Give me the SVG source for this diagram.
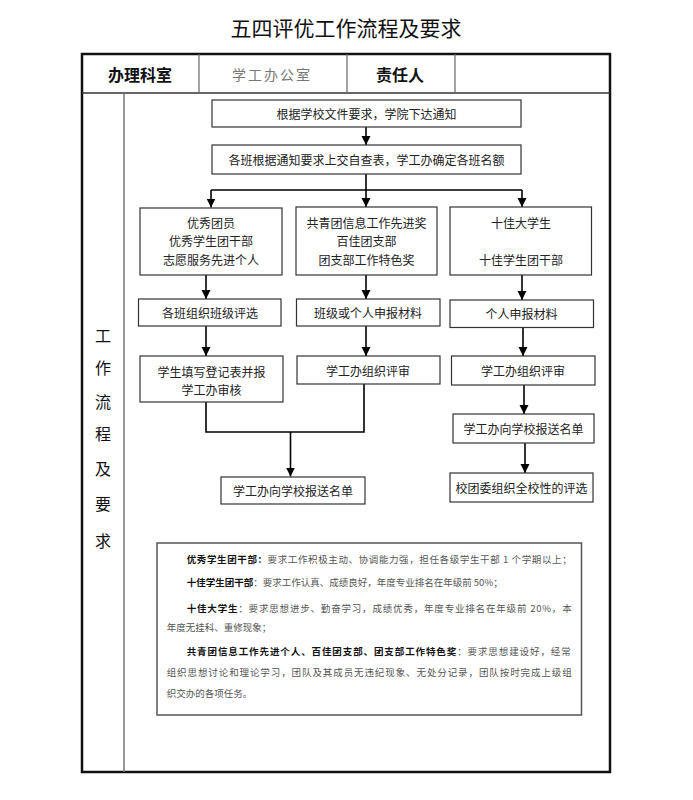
<svg xmlns="http://www.w3.org/2000/svg" width="693" height="800" viewBox="0 0 693 800">
<style>
text{font-family:"Noto Sans CJK SC","Noto Sans",sans-serif;}
.box{fill:#fff;stroke:#333;stroke-width:1.2;}
.bt{font-size:12px;fill:#222;text-anchor:middle;dominant-baseline:central;}
.ln{fill:none;stroke:#000;stroke-width:1.6;}
.arr{fill:none;stroke:#000;stroke-width:1.6;marker-end:url(#ah);}
.hd{font-size:16px;fill:#111;text-anchor:middle;dominant-baseline:central;font-weight:bold;}
.vt{font-size:16px;fill:#111;text-anchor:middle;dominant-baseline:central;}
.rq{font-size:9.5px;fill:#555;}
.rq .b{font-weight:bold;fill:#111;}
</style>
<defs>
<marker id="ah" markerUnits="userSpaceOnUse" markerWidth="10" markerHeight="10" refX="9" refY="4.5" orient="auto">
<path d="M0,0 L9,4.5 L0,9 z" fill="#000"/>
</marker>
</defs>
<rect width="693" height="800" fill="#fff"/>
<g id="title">
<text x="346" y="27" text-anchor="middle" dominant-baseline="central" font-size="21" fill="#111">五四评优工作流程及要求</text>
</g>
<g id="table">
<rect x="82" y="54" width="528" height="718" fill="none" stroke="#111" stroke-width="2.5"/>
<line x1="82" y1="93" x2="610" y2="93" stroke="#333" stroke-width="1.5"/>
<line x1="199" y1="54" x2="199" y2="93" stroke="#666" stroke-width="1.2"/>
<line x1="347" y1="54" x2="347" y2="93" stroke="#666" stroke-width="1.2"/>
<line x1="455" y1="54" x2="455" y2="93" stroke="#666" stroke-width="1.2"/>
<line x1="124" y1="93" x2="124" y2="772" stroke="#777" stroke-width="1.5"/>
<text class="hd" x="140" y="73.5">办理科室</text>
<text x="272" y="73.5" text-anchor="middle" dominant-baseline="central" font-size="14" fill="#777" letter-spacing="2">学工办公室</text>
<text class="hd" x="400" y="73.5">责任人</text>
</g>
<g id="side-label">
<text class="vt" x="103" y="335">工</text>
<text class="vt" x="103" y="367">作</text>
<text class="vt" x="103" y="401">流</text>
<text class="vt" x="103" y="433">程</text>
<text class="vt" x="103" y="468">及</text>
<text class="vt" x="103" y="503">要</text>
<text class="vt" x="103" y="540">求</text>
</g>
<g id="connectors">
<path class="arr" d="M366,127 V145"/>
<path class="ln" d="M366,174 V190 M211,190 H522"/>
<path class="arr" d="M211,190 V207.5"/>
<path class="arr" d="M366,190 V207"/>
<path class="arr" d="M522,190 V207"/>
<path class="arr" d="M206,275 V299"/>
<path class="arr" d="M366,275 V299"/>
<path class="arr" d="M522,275 V300"/>
<path class="arr" d="M206,326 V356"/>
<path class="arr" d="M366,326 V356"/>
<path class="arr" d="M523,327.5 V356"/>
<path class="ln" d="M206,402 V432 H364 V384"/>
<path class="arr" d="M290.5,432 V476.5"/>
<path class="arr" d="M524,385 V414"/>
<path class="arr" d="M525,443 V473"/>
</g>
<g id="n1"><rect class="box" x="212" y="100" width="309" height="27"/><text class="bt" x="366.5" y="113.5">根据学校文件要求，学院下达通知</text></g>
<g id="n2"><rect class="box" x="212" y="145" width="309" height="29"/><text class="bt" x="366.5" y="159.5">各班根据通知要求上交自查表，学工办确定各班名额</text></g>
<g id="nA"><rect class="box" x="140" y="208" width="142" height="67"/>
<text class="bt" x="211" y="222">优秀团员</text><text class="bt" x="211" y="240.5">优秀学生团干部</text><text class="bt" x="211" y="259">志愿服务先进个人</text></g>
<g id="nB"><rect class="box" x="296" y="207" width="141" height="68"/>
<text class="bt" x="366.5" y="222">共青团信息工作先进奖</text><text class="bt" x="366.5" y="240.5">百佳团支部</text><text class="bt" x="366.5" y="259">团支部工作特色奖</text></g>
<g id="nC"><rect class="box" x="450" y="207" width="141.5" height="68"/>
<text class="bt" x="521" y="222">十佳大学生</text><text class="bt" x="521" y="259">十佳学生团干部</text></g>
<g id="nA2"><rect class="box" x="138.5" y="299" width="142.5" height="27"/><text class="bt" x="210" y="312.5">各班组织班级评选</text></g>
<g id="nB2"><rect class="box" x="296.5" y="299" width="143.5" height="27"/><text class="bt" x="368" y="312.5">班级或个人申报材料</text></g>
<g id="nC2"><rect class="box" x="450" y="300" width="143.5" height="27.5"/><text class="bt" x="521.5" y="313.5">个人申报材料</text></g>
<g id="nA3"><rect class="box" x="140" y="356" width="143" height="46"/>
<text class="bt" x="211.5" y="371">学生填写登记表并报</text><text class="bt" x="211.5" y="389">学工办审核</text></g>
<g id="nB3"><rect class="box" x="297" y="356" width="143" height="28"/><text class="bt" x="368" y="370.5">学工办组织评审</text></g>
<g id="nC3"><rect class="box" x="451.5" y="356" width="143.5" height="29"/><text class="bt" x="523" y="370.5">学工办组织评审</text></g>
<g id="nD"><rect class="box" x="221" y="477" width="144" height="27"/><text class="bt" x="293" y="490.5">学工办向学校报送名单</text></g>
<g id="nC4"><rect class="box" x="453" y="414" width="141" height="29"/><text class="bt" x="523.5" y="428.5">学工办向学校报送名单</text></g>
<g id="nC5"><rect class="box" x="450" y="473" width="143" height="29"/><text class="bt" x="521.5" y="487.5">校团委组织全校性的评选</text></g>
<g id="requirements">
<rect x="157" y="543" width="424.5" height="172" fill="#fff" stroke="#555" stroke-width="1.5"/>
<text class="rq" x="186.7" y="562.5" textLength="385" lengthAdjust="spacing"><tspan class="b">优秀学生团干部：</tspan>要求工作积极主动、协调能力强，担任各级学生干部 1 个学期以上；</text>
<text class="rq" x="186.7" y="586.3"><tspan class="b">十佳学生团干部</tspan>：要求工作认真、成绩良好，年度专业排名在年级前 50%；</text>
<text class="rq" x="186.7" y="612.2" textLength="385" lengthAdjust="spacing"><tspan class="b">十佳大学生</tspan>：要求思想进步、勤奋学习，成绩优秀，年度专业排名在年级前 20%，本</text>
<text class="rq" x="166.7" y="630.8">年度无挂科、重修现象；</text>
<text class="rq" x="186.7" y="655" textLength="384" lengthAdjust="spacing"><tspan class="b">共青团信息工作先进个人、百佳团支部、团支部工作特色奖</tspan>：要求思想建设好，经常</text>
<text class="rq" x="166.7" y="676.3" textLength="405" lengthAdjust="spacing">组织思想讨论和理论学习，团队及其成员无违纪现象、无处分记录，团队按时完成上级组</text>
<text class="rq" x="166.7" y="697.3">织交办的各项任务。</text>
</g>
</svg>
